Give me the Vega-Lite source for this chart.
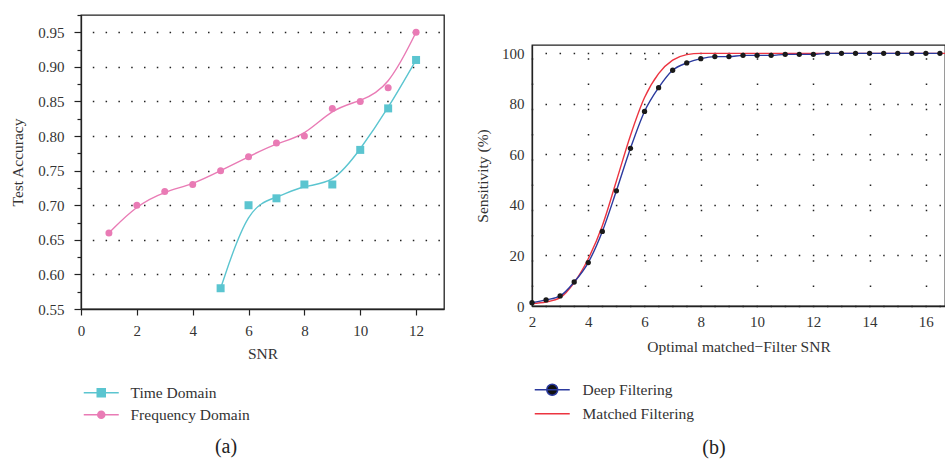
{
  "$schema": "https://vega.github.io/schema/vega-lite/v6.json",
  "background": "white",
  "padding": {"left": 10, "top": 13, "right": 0, "bottom": 0},
  "config": {
    "font": "Liberation Serif",
    "view": {"stroke": "#222", "strokeWidth": 1.3},
    "axis": {
      "labelFont": "Liberation Serif", "titleFont": "Liberation Serif",
      "labelFontSize": 15, "titleFontSize": 15.5, "titleFontWeight": "normal",
      "labelColor": "#333", "titleColor": "#333", "labelFlush": false,
      "domainColor": "#222", "tickColor": "#222", "domainWidth": 1.3, "tickWidth": 1.2
    },
    "legend": {"labelFont": "Liberation Serif", "labelFontSize": 15.5, "labelColor": "#333"},
    "title": {"font": "Liberation Serif", "fontSize": 20, "fontWeight": "normal", "color": "#222"}
  },
  "resolve": {"scale": {"color": "independent"}, "legend": {"color": "independent"}},
  "datasets": {
    "acc": [
      {"snr": 1, "acc": 0.66, "series": "Frequency Domain"},
      {"snr": 2, "acc": 0.70, "series": "Frequency Domain"},
      {"snr": 3, "acc": 0.72, "series": "Frequency Domain"},
      {"snr": 4, "acc": 0.73, "series": "Frequency Domain"},
      {"snr": 5, "acc": 0.75, "series": "Frequency Domain"},
      {"snr": 6, "acc": 0.77, "series": "Frequency Domain"},
      {"snr": 7, "acc": 0.79, "series": "Frequency Domain"},
      {"snr": 8, "acc": 0.80, "series": "Frequency Domain"},
      {"snr": 9, "acc": 0.84, "series": "Frequency Domain"},
      {"snr": 10, "acc": 0.85, "series": "Frequency Domain"},
      {"snr": 11, "acc": 0.87, "series": "Frequency Domain"},
      {"snr": 12, "acc": 0.95, "series": "Frequency Domain"},
      {"snr": 5, "acc": 0.58, "series": "Time Domain"},
      {"snr": 6, "acc": 0.70, "series": "Time Domain"},
      {"snr": 7, "acc": 0.71, "series": "Time Domain"},
      {"snr": 8, "acc": 0.73, "series": "Time Domain"},
      {"snr": 9, "acc": 0.73, "series": "Time Domain"},
      {"snr": 10, "acc": 0.78, "series": "Time Domain"},
      {"snr": 11, "acc": 0.84, "series": "Time Domain"},
      {"snr": 12, "acc": 0.91, "series": "Time Domain"}
    ],
    "sens": [
      {"snr": 2, "sens": 1.3, "series": "Deep Filtering"},
      {"snr": 2.5, "sens": 2.4, "series": "Deep Filtering"},
      {"snr": 3, "sens": 4.0, "series": "Deep Filtering"},
      {"snr": 3.5, "sens": 9.5, "series": "Deep Filtering"},
      {"snr": 4, "sens": 17.2, "series": "Deep Filtering"},
      {"snr": 4.5, "sens": 29.5, "series": "Deep Filtering"},
      {"snr": 5, "sens": 45.6, "series": "Deep Filtering"},
      {"snr": 5.5, "sens": 62.4, "series": "Deep Filtering"},
      {"snr": 6, "sens": 77.0, "series": "Deep Filtering"},
      {"snr": 6.5, "sens": 86.4, "series": "Deep Filtering"},
      {"snr": 7, "sens": 93.3, "series": "Deep Filtering"},
      {"snr": 7.5, "sens": 96.2, "series": "Deep Filtering"},
      {"snr": 8, "sens": 97.9, "series": "Deep Filtering"},
      {"snr": 8.5, "sens": 98.7, "series": "Deep Filtering"},
      {"snr": 9, "sens": 98.7, "series": "Deep Filtering"},
      {"snr": 9.5, "sens": 99.2, "series": "Deep Filtering"},
      {"snr": 10, "sens": 99.2, "series": "Deep Filtering"},
      {"snr": 10.5, "sens": 99.2, "series": "Deep Filtering"},
      {"snr": 11, "sens": 99.6, "series": "Deep Filtering"},
      {"snr": 11.5, "sens": 99.6, "series": "Deep Filtering"},
      {"snr": 12, "sens": 99.6, "series": "Deep Filtering"},
      {"snr": 12.5, "sens": 100, "series": "Deep Filtering"},
      {"snr": 13, "sens": 100, "series": "Deep Filtering"},
      {"snr": 13.5, "sens": 100, "series": "Deep Filtering"},
      {"snr": 14, "sens": 100, "series": "Deep Filtering"},
      {"snr": 14.5, "sens": 100, "series": "Deep Filtering"},
      {"snr": 15, "sens": 100, "series": "Deep Filtering"},
      {"snr": 15.5, "sens": 100, "series": "Deep Filtering"},
      {"snr": 16, "sens": 100, "series": "Deep Filtering"},
      {"snr": 16.5, "sens": 100, "series": "Deep Filtering"},
      {"snr": 2, "sens": 1.0, "series": "Matched Filtering"},
      {"snr": 2.5, "sens": 1.6, "series": "Matched Filtering"},
      {"snr": 3, "sens": 3.3, "series": "Matched Filtering"},
      {"snr": 3.5, "sens": 9.3, "series": "Matched Filtering"},
      {"snr": 4, "sens": 18.7, "series": "Matched Filtering"},
      {"snr": 4.5, "sens": 31.8, "series": "Matched Filtering"},
      {"snr": 5, "sens": 49.5, "series": "Matched Filtering"},
      {"snr": 5.5, "sens": 67.5, "series": "Matched Filtering"},
      {"snr": 6, "sens": 82.5, "series": "Matched Filtering"},
      {"snr": 6.5, "sens": 92.0, "series": "Matched Filtering"},
      {"snr": 7, "sens": 97.3, "series": "Matched Filtering"},
      {"snr": 7.5, "sens": 99.5, "series": "Matched Filtering"},
      {"snr": 8, "sens": 100, "series": "Matched Filtering"},
      {"snr": 9, "sens": 100, "series": "Matched Filtering"},
      {"snr": 10, "sens": 100, "series": "Matched Filtering"},
      {"snr": 12, "sens": 100, "series": "Matched Filtering"},
      {"snr": 14, "sens": 100, "series": "Matched Filtering"},
      {"snr": 16.68, "sens": 100, "series": "Matched Filtering"}
    ]
  },
  "spacing": 29,
  "hconcat": [
    {
      "width": 363,
      "height": 294,
      "data": {"name": "acc"},
      "title": {"text": "(a)", "orient": "bottom", "offset": 13, "dx": -36.5},
      "encoding": {
        "x": {
          "field": "snr", "type": "quantitative",
          "scale": {"domain": [0, 13], "nice": false},
          "axis": {"title": "SNR", "values": [0, 2, 4, 6, 8, 10, 12], "format": "d", "grid": false,
                   "tickSize": 6, "labelPadding": 8, "titlePadding": 8}
        },
        "y": {
          "field": "acc", "type": "quantitative",
          "scale": {"domain": [0.55, 0.975], "nice": false, "zero": false},
          "axis": {
            "title": "Test Accuracy",
            "values": [0.55, 0.575, 0.6, 0.625, 0.65, 0.675, 0.7, 0.725, 0.75, 0.775, 0.8, 0.825, 0.85, 0.875, 0.9, 0.925, 0.95, 0.975],
            "labelExpr": "round(datum.value * 1000) % 50 == 0 ? format(datum.value, '.2f') : ''",
            "tickSize": {"condition": {"test": "round(datum.value * 1000) % 50 == 0", "value": 7}, "value": 4},
            "grid": true,
            "gridColor": "#222",
            "gridWidth": 1.5,
            "gridDash": [1.5, 11.3],
            "gridDashOffset": 1.5,
            "gridOpacity": {"condition": {"test": "round(datum.value * 1000) % 50 == 0 && datum.value > 0.56", "value": 1}, "value": 0},
            "labelPadding": 10,
            "titlePadding": 12
          }
        }
      },
      "layer": [
        {
          "mark": {"type": "line", "interpolate": "basis", "strokeWidth": 1.4},
          "encoding": {
            "color": {
              "field": "series", "type": "nominal",
              "scale": {"domain": ["Time Domain", "Frequency Domain"], "range": ["#5bc5d0", "#e97bb5"]},
              "legend": {
                "orient": "none", "legendX": 0, "legendY": 370, "title": null,
                "symbolSize": 100, "symbolStrokeWidth": 1.5, "labelOffset": 34, "rowPadding": 5,
                "encode": {
                  "symbols": {
                    "update": {
                      "shape": {"signal": "datum.value === 'Time Domain' ? 'M-1,0H6M1.7,-0.8H3.3V0.8H1.7Z' : 'M-1,0H6M3.2,0A0.7,0.7,0,1,1,1.8,0A0.7,0.7,0,1,1,3.2,0Z'"},
                      "fill": {"signal": "datum.value === 'Time Domain' ? '#5bc5d0' : '#e97bb5'"},
                      "stroke": {"signal": "datum.value === 'Time Domain' ? '#5bc5d0' : '#e97bb5'"}
                    }
                  }
                }
              }
            }
          }
        },
        {
          "transform": [{"filter": "datum.series === 'Time Domain'"}],
          "mark": {"type": "point", "shape": "square", "filled": true, "opacity": 1, "size": 64, "color": "#5bc5d0"},
          "encoding": {}
        },
        {
          "transform": [{"filter": "datum.series === 'Frequency Domain'"}],
          "mark": {"type": "point", "shape": "circle", "filled": true, "opacity": 1, "size": 49, "color": "#e97bb5"},
          "encoding": {}
        }
      ]
    },
    {
      "spacing": 0,
      "vconcat": [
        {
          "width": 413,
          "height": 28,
          "data": {"values": []},
          "mark": "point",
          "view": {"stroke": "transparent"}
        },
        {
          "width": 413,
          "height": 261,
          "data": {"name": "sens"},
          "title": {"text": "(b)", "orient": "bottom", "offset": 83, "dx": -24.5},
          "layer": [
            {
              "transform": [{"filter": "datum.series === 'Matched Filtering'"}],
              "mark": {"type": "line", "interpolate": "monotone", "strokeWidth": 1.4, "color": "#ec3440"},
              "encoding": {
                "x": {"field": "snr", "type": "quantitative", "scale": {"domain": [2, 16.68], "nice": false}},
                "y": {"field": "sens", "type": "quantitative"}
              }
            },
            {
              "transform": [{"filter": "datum.series === 'Deep Filtering'"}],
              "mark": {"type": "line", "interpolate": "monotone", "strokeWidth": 1.4},
              "encoding": {
                "x": {
                  "field": "snr", "type": "quantitative", "scale": {"domain": [2, 16.68], "nice": false},
                  "axis": {
                    "title": "Optimal matched−Filter SNR",
                    "values": [2, 3, 4, 5, 6, 7, 8, 9, 10, 11, 12, 13, 14, 15, 16],
                    "labelExpr": "datum.value % 2 == 0 ? datum.label : ''",
                    "ticks": false, "labelPadding": 8, "titlePadding": 10,
                    "grid": true, "gridColor": "#222", "gridWidth": 1.5,
                    "gridDash": [1.5, 23.77], "gridDashOffset": 12.64
                  }
                },
                "y": {
                  "field": "sens", "type": "quantitative",
                  "scale": {"domain": [0, 103.3], "nice": false},
                  "axis": {
                    "title": "Sensitivity (%)",
                    "values": [0, 10, 20, 30, 40, 50, 60, 70, 80, 90, 100],
                    "labelExpr": "datum.value % 20 == 0 ? datum.label : ''",
                    "ticks": false, "labelPadding": 8, "titlePadding": 11,
                    "grid": true, "gridColor": "#222", "gridWidth": 1.5,
                    "gridDash": [1.5, 12.57], "gridDashOffset": 1.07
                  }
                },
                "color": {
                  "field": "series", "type": "nominal",
                  "scale": {"domain": ["Deep Filtering", "Matched Filtering"], "range": ["#2b3a9e", "#ec3440"]},
                  "legend": {
                    "orient": "none", "legendX": 0, "legendY": 367, "title": null,
                    "symbolSize": 100, "symbolStrokeWidth": 1.5, "labelOffset": 35, "rowPadding": 7,
                    "values": ["Deep Filtering", "Matched Filtering"],
                    "encode": {
                      "symbols": {
                        "update": {
                          "shape": {"signal": "datum.value === 'Deep Filtering' ? 'M-1,0H6M3.6,0A1.1,1.1,0,1,1,1.4,0A1.1,1.1,0,1,1,3.6,0Z' : 'M-1,0H6'"},
                          "fill": {"signal": "datum.value === 'Deep Filtering' ? '#111111' : 'transparent'"},
                          "stroke": {"signal": "datum.value === 'Deep Filtering' ? '#2b3a9e' : '#ec3440'"}
                        }
                      }
                    }
                  }
                }
              }
            },
            {
              "transform": [{"filter": "datum.series === 'Deep Filtering'"}],
              "mark": {"type": "point", "filled": true, "opacity": 1, "color": "#1a1a1a", "size": 28},
              "encoding": {
                "x": {"field": "snr", "type": "quantitative", "scale": {"domain": [2, 16.68], "nice": false}},
                "y": {"field": "sens", "type": "quantitative"}
              }
            }
          ]
        }
      ]
    }
  ]
}
